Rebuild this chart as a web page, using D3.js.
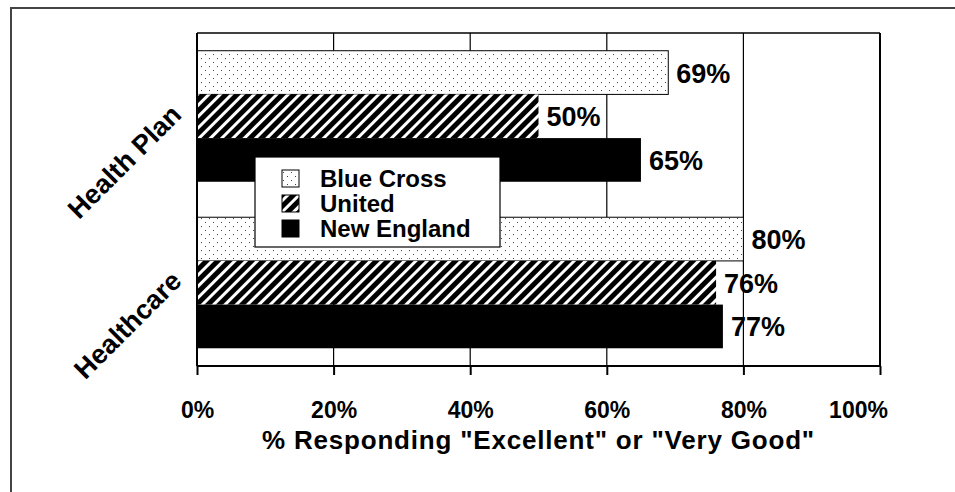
<!DOCTYPE html>
<html><head><meta charset="utf-8">
<script src="https://cdn.jsdelivr.net/npm/d3@7"></script>
<style>
html,body{margin:0;padding:0;background:#fff;}
svg{display:block;}
text{font-family:"Liberation Sans",Arial,Helvetica,sans-serif;font-weight:bold;fill:#000;}
</style></head>
<body>
<script>
const categories = ["Health Plan", "Healthcare"];
const seriesNames = ["Blue Cross", "United", "New England"];
const blueCross = [69, 80];
const united = [50, 76];
const newEngland = [65, 77];
const xTicks = [0, 20, 40, 60, 80, 100];
const xTitle = '% Responding "Excellent" or "Very Good"';

const W = 955, H = 492;
const svg = d3.select("body").append("svg").attr("width", W).attr("height", H);
const defs = svg.append("defs");

const dots = defs.append("pattern").attr("id","dots").attr("patternUnits","userSpaceOnUse")
  .attr("width",8).attr("height",8);
dots.append("rect").attr("width",8).attr("height",8).attr("fill","#fff");
dots.append("rect").attr("x",1).attr("y",2).attr("width",1).attr("height",1).attr("fill","#444");
dots.append("rect").attr("x",5).attr("y",6).attr("width",1).attr("height",1).attr("fill","#444");

const hatch = defs.append("pattern").attr("id","hatch").attr("patternUnits","userSpaceOnUse")
  .attr("width",8).attr("height",8).attr("patternTransform","rotate(45)");
hatch.append("rect").attr("width",8).attr("height",8).attr("fill","#fff");
hatch.append("rect").attr("x",0).attr("y",0).attr("width",5).attr("height",8).attr("fill","#000");

const fills = ["url(#dots)", "url(#hatch)", "#000"];

svg.append("rect").attr("x",11).attr("y",8).attr("width",1000).attr("height",600)
  .attr("fill","none").attr("stroke","#444").attr("stroke-width",2);

const pLeft = 197, pRight = 880, pTop = 33, pBottom = 366;
const x = d3.scaleLinear().domain([0,100]).range([pLeft,pRight]);
const y0 = d3.scaleBand().domain(categories).range([pTop,pBottom]).paddingInner(0.213).paddingOuter(0.1065);
const y1 = d3.scaleBand().domain(seriesNames).range([0,y0.bandwidth()]);

svg.append("g").selectAll("line").data(xTicks.filter(d=>d>0)).join("line")
  .attr("x1",d=>x(d)).attr("x2",d=>x(d)).attr("y1",pTop).attr("y2",pBottom)
  .attr("stroke","#000").attr("stroke-width",1.2);
svg.append("line").attr("x1",pLeft).attr("x2",pRight).attr("y1",pTop).attr("y2",pTop)
  .attr("stroke","#000").attr("stroke-width",1.5);
svg.append("line").attr("x1",pRight).attr("x2",pRight).attr("y1",pTop).attr("y2",pBottom)
  .attr("stroke","#000").attr("stroke-width",2);

const values = [blueCross, united, newEngland];
const rows = [];
categories.forEach((c,ci)=>seriesNames.forEach((s,si)=>rows.push({c,s,si,v:values[si][ci]})));

svg.append("g").selectAll("rect").data(rows).join("rect")
  .attr("x",x(0)).attr("y",d=>y0(d.c)+y1(d.s))
  .attr("width",d=>x(d.v)-x(0)).attr("height",y1.bandwidth())
  .attr("fill",d=>fills[d.si])
  .attr("stroke",d=>d.si===0?"#000":"none").attr("stroke-width",1);

svg.append("g").selectAll("text").data(rows).join("text")
  .attr("x",d=>x(d.v)+8).attr("y",d=>y0(d.c)+y1(d.s)+y1.bandwidth()/2)
  .attr("dy","0.37em").attr("font-size",27).text(d=>d.v+"%");

svg.append("line").attr("x1",pLeft).attr("x2",pLeft).attr("y1",pTop).attr("y2",pBottom)
  .attr("stroke","#000").attr("stroke-width",2);
const xAxis = d3.axisBottom(x).tickValues(xTicks).tickSize(9).tickFormat(d=>d+"%");
const gx = svg.append("g").attr("transform",`translate(0,${pBottom})`).call(xAxis);
gx.select(".domain").attr("stroke","#000").attr("stroke-width",2).attr("d",`M${pLeft},0H${pRight}`);
gx.selectAll(".tick line").attr("stroke","#000").attr("stroke-width",2);
gx.selectAll(".tick text").attr("font-size",23).attr("font-family",'"Liberation Sans",Arial,sans-serif')
  .attr("font-weight","bold").attr("fill","#000").attr("y",0).attr("dy","52")
  .attr("dx",d=>d===100?-22:0);

svg.append("text").attr("x",(pLeft+pRight)/2).attr("y",449).attr("text-anchor","middle")
  .attr("font-size",26).attr("letter-spacing",0.8).text(xTitle);

svg.append("g").selectAll("text").data(categories).join("text")
  .attr("transform",d=>`translate(183,${y0(d)+y0.bandwidth()/2}) rotate(-45)`)
  .attr("text-anchor","end").attr("font-size",27).text(d=>d);

const lg = svg.append("g").attr("transform","translate(255,157)");
lg.append("rect").attr("width",245).attr("height",90).attr("fill","#fff").attr("stroke","#000").attr("stroke-width",1.2);
const li = lg.selectAll("g").data(seriesNames).join("g")
  .attr("transform",(d,i)=>`translate(27,${21+i*25})`);
li.append("rect").attr("x",0).attr("y",-8).attr("width",17).attr("height",17)
  .attr("fill",(d,i)=>fills[i]).attr("stroke","#000").attr("stroke-width",1);
li.append("text").attr("x",38).attr("y",0).attr("dy","0.36em").attr("font-size",24).text(d=>d);
</script>
</body></html>
